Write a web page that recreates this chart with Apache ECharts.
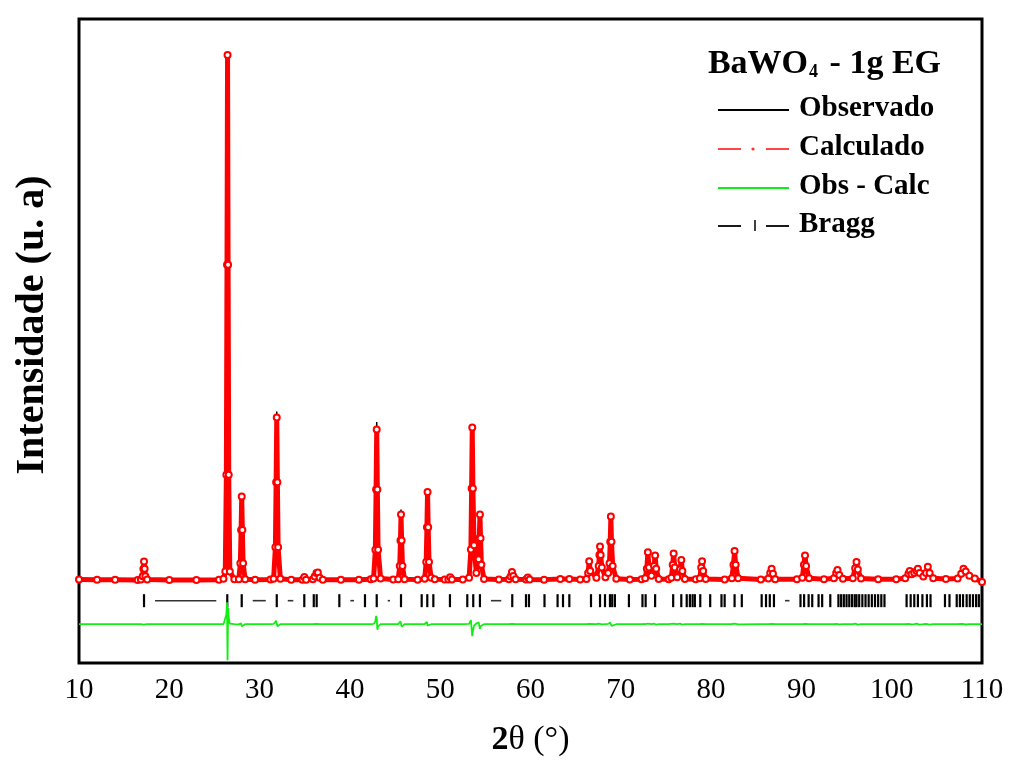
<!DOCTYPE html>
<html>
<head>
<meta charset="utf-8">
<script src="https://cdn.jsdelivr.net/npm/echarts@6/dist/echarts.min.js"></script>
<style>
  html, body { margin: 0; padding: 0; background: #fff; }
  #chart { width: 1014px; height: 771px; }
</style>
</head>
<body>
<div id="chart"></div>
<script>
// ---- Data ----
const xTickLabels = [10, 20, 30, 40, 50, 60, 70, 80, 90, 100, 110];

const twoTheta = [
  10.0, 12.0, 14.0, 16.5,
  16.85, 17.05, 17.13, 17.2, 17.27, 17.35, 17.55,
  20.0, 23.0, 25.5, 26.0,
  26.2, 26.32, 26.39, 26.45, 26.51, 26.58, 26.7,
  27.2,
  27.7, 27.87, 27.95, 28.02, 28.09, 28.17, 28.4,
  29.5, 31.2,
  31.55, 31.75, 31.83, 31.9, 31.97, 32.05, 32.3,
  33.5,
  34.75, 34.95, 35.15,
  35.9, 36.1, 36.3, 36.45, 36.65, 37.0,
  39.0, 41.0, 42.3,
  42.62, 42.82, 42.9, 42.97, 43.04, 43.12, 43.4,
  44.8,
  45.35, 45.52, 45.6, 45.66, 45.73, 45.82, 46.05,
  47.5,
  48.28, 48.45, 48.53, 48.6, 48.67, 48.76, 49.0, 49.4,
  50.5,
  50.9, 51.1, 51.3,
  52.5,
  53.2, 53.4, 53.48, 53.55, 53.62, 53.75,
  54.0, 54.25, 54.33, 54.4, 54.47, 54.56, 54.85,
  56.5,
  57.6, 57.8, 57.95, 58.1, 58.35,
  59.5, 59.7, 59.9,
  61.5, 63.3, 64.3, 65.5,
  66.2, 66.38, 66.5, 66.62,
  67.3, 67.55, 67.63, 67.7, 67.77, 67.9,
  68.3, 68.6, 68.75, 68.83, 68.9, 68.97, 69.1, 69.5,
  71.0, 72.3,
  72.7, 72.88, 73.0, 73.12, 73.4, 73.68, 73.8, 73.92, 74.2,
  75.3,
  75.6, 75.75, 75.85, 75.97, 76.25, 76.55, 76.7, 76.82, 77.1,
  78.3,
  78.75, 78.9, 79.0, 79.12, 79.4,
  81.5,
  82.3, 82.48, 82.6, 82.72, 83.0,
  85.5,
  86.35, 86.55, 86.7, 86.85, 87.1,
  89.5,
  90.1, 90.28, 90.4, 90.52, 90.85,
  92.5,
  93.6, 93.85, 94.0, 94.2, 94.6,
  95.7, 95.95, 96.1, 96.25, 96.6,
  98.5, 100.5, 101.5,
  101.85, 102.0, 102.2, 102.5, 102.75, 102.9, 103.1, 103.5,
  103.8, 104.0, 104.2, 104.6,
  106.0, 107.3,
  107.7, 107.95, 108.2, 108.6, 109.2, 110.0
];

const calculado = [
  205, 203, 202, 200,
  205, 253, 360, 467, 360, 253, 205,
  200, 200, 203, 215,
  320, 1720, 4750, 7780, 4750, 1720, 320,
  210,
  210, 440, 920, 1406, 920, 440, 210,
  202, 205,
  215, 670, 1610, 2547, 1610, 670, 215,
  202,
  202, 243, 204,
  210, 250, 300, 308, 230, 204,
  202, 203, 208,
  220, 635, 1504, 2373, 1504, 635, 220,
  205,
  210, 400, 770, 1146, 770, 400, 210,
  204,
  215, 460, 960, 1468, 960, 460, 230, 210,
  205,
  206, 240, 206,
  205,
  230, 640, 1520, 2402, 1520, 700,
  300, 500, 800, 1146, 800, 420, 212,
  205,
  210, 250, 313, 255, 208,
  205, 236, 205,
  204, 212, 212, 205,
  212, 300, 471, 330,
  230, 400, 560, 684, 560, 380,
  240, 300, 440, 750, 1117, 750, 400, 215,
  206, 210,
  225, 360, 601, 380, 260, 400, 554, 360, 212,
  210,
  230, 420, 583, 380, 240, 350, 486, 330, 212,
  208,
  225, 380, 471, 330, 212,
  205,
  225, 420, 616, 420, 225,
  205,
  220, 300, 362, 290, 210,
  208,
  230, 420, 554, 400, 225,
  210,
  225, 300, 342, 270, 215,
  225, 370, 457, 350, 220,
  210, 210, 225,
  290, 327, 280, 300, 330, 362, 300, 250,
  300, 391, 300, 225,
  212, 220,
  290, 362, 320, 260, 220, 170
];

const observado = [
  206, 202, 203, 201,
  206, 255, 365, 475, 355, 258, 205,
  201, 199, 204, 216,
  330, 1900, 4700, 6500, 4900, 1850, 330,
  212,
  212, 450, 940, 1380, 900, 430, 208,
  203, 206,
  218, 700, 1660, 2633, 1580, 650, 214,
  202,
  203, 246, 204,
  211, 252, 305, 306, 231, 205,
  202, 203, 209,
  224, 680, 1560, 2479, 1420, 600, 218,
  206,
  212, 420, 800, 1218, 740, 390, 209,
  205,
  218, 480, 990, 1450, 920, 445, 232, 210,
  205,
  207, 242, 206,
  206,
  235, 700, 1600, 2200, 1420, 680,
  310, 520, 830, 1080, 770, 410, 210,
  205,
  211, 252, 316, 254, 208,
  205, 238, 205,
  205, 212, 213, 206,
  214, 305, 478, 320,
  232, 420, 580, 690, 540, 375,
  245, 310, 460, 790, 1130, 720, 390, 216,
  206, 211,
  230, 380, 615, 370, 262, 415, 560, 350, 212,
  211,
  234, 440, 590, 372, 241, 360, 489, 325, 213,
  209,
  228, 388, 474, 326, 212,
  206,
  228, 440, 625, 405, 224,
  206,
  222, 305, 366, 286, 210,
  208,
  232, 435, 560, 390, 226,
  210,
  226, 305, 345, 268, 215,
  228, 380, 462, 344, 220,
  211, 210, 226,
  295, 332, 278, 302, 335, 365, 295, 250,
  305, 395, 296, 225,
  212, 221,
  295, 366, 318, 261, 220, 171
];

// Obs - Calc, drawn with its offset below the pattern
const obsMinusCalc = [
  -440, -440, -440, -440,
  -440, -438, -446, -432, -450, -437, -440,
  -440, -440, -440, -440,
  -430, -300, -122, -960, -200, -350, -430,
  -440,
  -442, -428, -425, -470, -455, -448, -440,
  -440, -440,
  -436, -410, -390, -380, -470, -460, -440,
  -440,
  -440, -438, -440,
  -440, -440, -436, -442, -440, -440,
  -440, -440, -440,
  -436, -400, -320, -350, -520, -470, -440,
  -440,
  -438, -420, -400, -380, -475, -450, -440,
  -440,
  -437, -420, -405, -460, -480, -455, -440, -440,
  -440,
  -440, -438, -440,
  -440,
  -435, -380, -353, -613, -540, -460,
  -430, -410, -400, -505, -470, -450, -440,
  -440,
  -440, -440, -437, -442, -440,
  -440, -440, -440,
  -440, -440, -440, -440,
  -440, -437, -435, -446,
  -440, -430, -425, -436, -452, -442,
  -438, -435, -425, -415, -430, -465, -448, -440,
  -440, -440,
  -437, -425, -430, -448, -440, -430, -435, -447, -440,
  -440,
  -436, -425, -433, -448, -440, -432, -437, -445, -440,
  -440,
  -438, -434, -437, -444, -440,
  -440,
  -437, -424, -431, -452, -441,
  -440,
  -440, -436, -437, -444, -440,
  -440,
  -438, -428, -434, -448, -440,
  -440,
  -440, -436, -437, -442, -440,
  -439, -432, -435, -446, -440,
  -440, -440, -440,
  -436, -435, -443, -440, -432, -437, -445, -440,
  -435, -438, -446, -440,
  -440, -440,
  -436, -437, -444, -440, -438, -440
];

const braggPositions = [
  17.2, 26.42, 28.02, 31.9, 34.95, 36.0, 36.32, 38.83, 41.67, 42.97,
  45.66, 47.95, 48.57, 49.24, 51.08, 53.0, 53.66, 54.4, 57.98, 59.5,
  59.83, 61.55, 63.0, 63.6, 64.3, 66.7, 67.7, 68.25, 68.8, 69.05,
  69.35, 70.9, 72.4, 72.75, 73.8, 75.8, 76.7, 77.3, 77.65, 77.95,
  78.2, 78.8, 79.9, 81.15, 81.5, 82.6, 83.4, 85.6, 86.08, 86.5,
  86.96, 89.9, 90.3, 90.8, 91.2, 91.9, 92.3, 93.2, 94.1, 94.4,
  94.7, 95.0, 95.3, 95.6, 95.9, 96.1, 96.4, 96.75, 97.1, 97.45,
  97.8, 98.15, 98.5, 98.85, 99.2, 101.65, 102.1, 102.5, 102.9, 103.4,
  103.9, 104.3, 105.9, 106.4, 107.2, 107.55, 107.9, 108.3, 108.65, 109.0,
  109.35, 109.65
];
const braggRowValue = -100;

// ---- Chart ----
const serif = '"Liberation Serif", "Times New Roman", serif';
const chart = echarts.init(document.getElementById('chart'), null, { renderer: 'canvas' });

const obsData = twoTheta.map((x, i) => [x, observado[i]]);
const calcData = twoTheta.map((x, i) => [x, calculado[i]]);
const diffData = twoTheta.map((x, i) => [x, obsMinusCalc[i]]);
const braggData = braggPositions.map(x => [x, braggRowValue]);

const option = {
  backgroundColor: '#fff',
  animation: false,
  title: {
    text: '{a|BaWO}{s|4}{a| - 1g EG}',
    right: 68,
    top: 34,
    textStyle: {
      rich: {
        a: { fontFamily: serif, fontWeight: 'bold', fontSize: 34, color: '#000', lineHeight: 42, verticalAlign: 'bottom' },
        s: { fontFamily: serif, fontWeight: 'bold', fontSize: 18, color: '#000', lineHeight: 16, verticalAlign: 'bottom', padding: [0, 3, 0, 1] }
      }
    }
  },
  grid: {
    left: 79, right: 32, top: 19, bottom: 108,
    show: true, borderColor: '#000', borderWidth: 3, backgroundColor: 'transparent'
  },
  xAxis: {
    type: 'value',
    min: 10, max: 110, interval: 10,
    name: '{b|2}{n|θ (°)}',
    nameLocation: 'middle',
    nameGap: 60,
    nameTextStyle: {
      rich: {
        b: { fontFamily: serif, fontWeight: 'bold', fontSize: 34, color: '#000' },
        n: { fontFamily: serif, fontSize: 34, color: '#000' }
      }
    },
    axisLine: { show: false },
    axisTick: { show: false },
    splitLine: { show: false },
    axisLabel: {
      fontFamily: serif, fontSize: 29, color: '#000', margin: 13,
      formatter: v => (xTickLabels.indexOf(v) >= 0 ? String(v) : '')
    }
  },
  yAxis: {
    type: 'value',
    min: -1000, max: 8300,
    name: 'Intensidade (u. a)',
    nameLocation: 'middle',
    nameRotate: 90,
    nameGap: 26,
    nameTextStyle: {
      fontFamily: serif, fontWeight: 'bold', fontSize: 40, color: '#000',
      padding: [0, 0, 0, 32]
    },
    axisLine: { show: false },
    axisTick: { show: false },
    axisLabel: { show: false },
    splitLine: { show: false }
  },
  series: [
    {
      name: 'Observado',
      type: 'line',
      data: obsData,
      symbol: 'none',
      lineStyle: { color: '#000', width: 1.5 },
      z: 2
    },
    {
      name: 'Calculado',
      type: 'line',
      data: calcData,
      symbol: 'emptyCircle',
      symbolSize: 6,
      showAllSymbol: true,
      itemStyle: { color: '#ff0000', borderColor: '#ff0000', borderWidth: 1.5 },
      lineStyle: { color: '#ff0000', width: 5 },
      z: 3
    },
    {
      name: 'Obs - Calc',
      type: 'line',
      data: diffData,
      symbol: 'none',
      lineStyle: { color: '#11ee11', width: 1.8 },
      z: 2
    },
    {
      name: 'Bragg',
      type: 'custom',
      data: braggData,
      encode: { x: 0, y: 1 },
      z: 2,
      renderItem: function (params, api) {
        const i = params.dataIndex;
        const p = api.coord([api.value(0), api.value(1)]);
        const children = [{
          type: 'line',
          shape: { x1: p[0], y1: p[1] - 6.5, x2: p[0], y2: p[1] + 6.5 },
          style: { stroke: '#000', lineWidth: 2.2 }
        }];
        if (i + 1 < braggPositions.length) {
          const q = api.coord([braggPositions[i + 1], braggRowValue]);
          const a = p[0] + 11, b = q[0] - 11;
          if (b - a > 0.8) {
            children.push({
              type: 'line',
              shape: { x1: a, y1: p[1], x2: b, y2: p[1] },
              style: { stroke: '#333', lineWidth: 1.6 }
            });
          }
        }
        return { type: 'group', children: children };
      }
    }
  ],
  graphic: [
    // legend
    { type: 'line', shape: { x1: 718, y1: 110, x2: 789, y2: 110 }, style: { stroke: '#000', lineWidth: 1.8 } },
    { type: 'text', left: 799, top: 94, style: { text: 'Observado', font: 'bold 29px ' + serif, fill: '#000' } },

    { type: 'line', shape: { x1: 718, y1: 149, x2: 741, y2: 149 }, style: { stroke: '#ff3030', lineWidth: 1.8 } },
    { type: 'circle', shape: { cx: 753, cy: 149, r: 1.6 }, style: { fill: '#ff3030' } },
    { type: 'line', shape: { x1: 766, y1: 149, x2: 789, y2: 149 }, style: { stroke: '#ff3030', lineWidth: 1.8 } },
    { type: 'text', left: 799, top: 133, style: { text: 'Calculado', font: 'bold 29px ' + serif, fill: '#000' } },

    { type: 'line', shape: { x1: 718, y1: 188, x2: 789, y2: 188 }, style: { stroke: '#11ee11', lineWidth: 1.8 } },
    { type: 'text', left: 799, top: 172, style: { text: 'Obs - Calc', font: 'bold 29px ' + serif, fill: '#000' } },

    { type: 'line', shape: { x1: 718, y1: 226, x2: 741, y2: 226 }, style: { stroke: '#000', lineWidth: 1.8 } },
    { type: 'line', shape: { x1: 755, y1: 220, x2: 755, y2: 231 }, style: { stroke: '#000', lineWidth: 1.5 } },
    { type: 'line', shape: { x1: 766, y1: 226, x2: 789, y2: 226 }, style: { stroke: '#000', lineWidth: 1.8 } },
    { type: 'text', left: 799, top: 210, style: { text: 'Bragg', font: 'bold 29px ' + serif, fill: '#000' } }
  ]
};

chart.setOption(option);
</script>
</body>
</html>
